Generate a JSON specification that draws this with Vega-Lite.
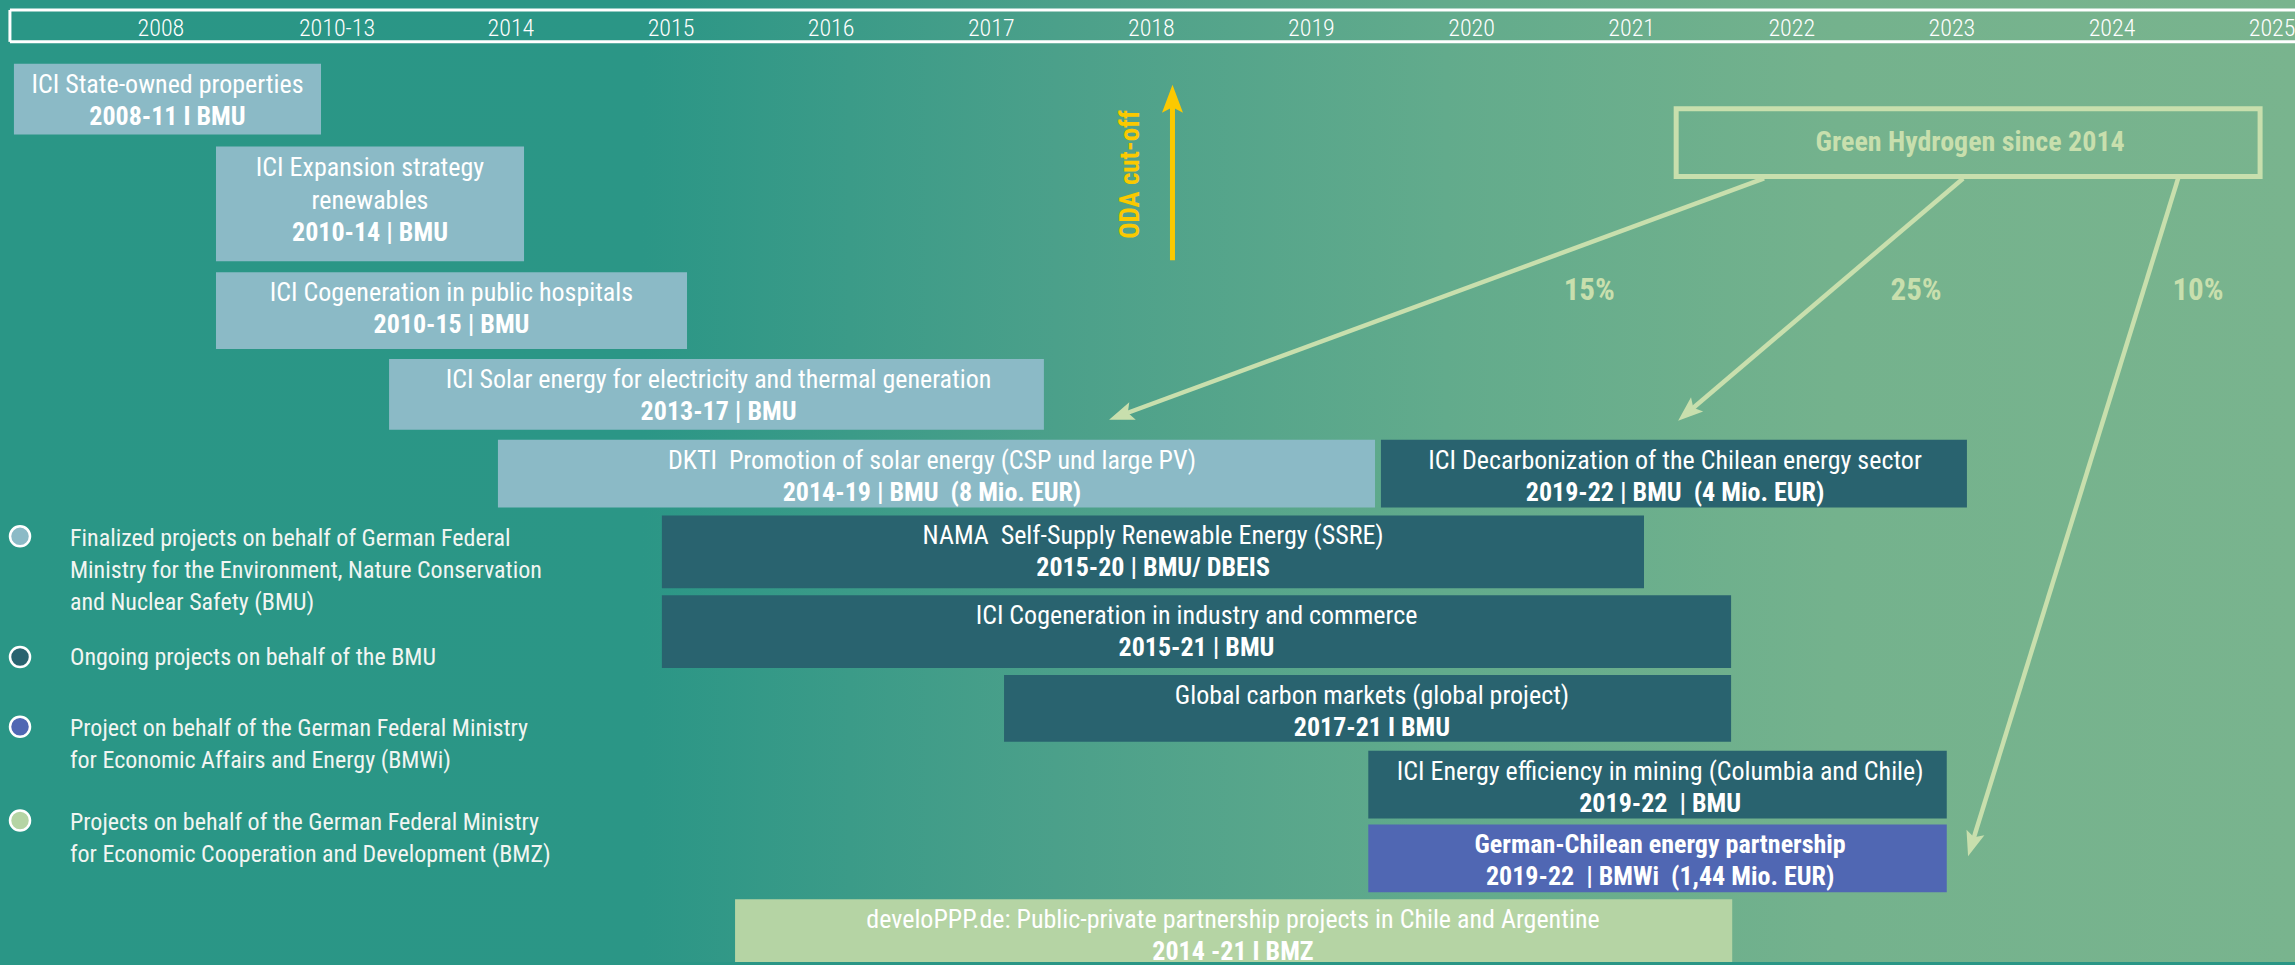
{
  "$schema": "https://vega.github.io/schema/vega-lite/v6.json",
  "width": 2295,
  "height": 965,
  "autosize": {"type": "fit", "contains": "padding"},
  "padding": 0,
  "background": "#2a9686",
  "config": {
    "view": {"stroke": null},
    "text": {"font": "Roboto Condensed, Open Sans Condensed, Liberation Sans Narrow, DejaVu Sans Condensed, sans-serif"}
  },
  "datasets": {
    "frame": [{"x0": 2010.809, "x1": 2025.143, "v0": 0, "v1": 965}],
    "header": [
      {"x0": 2010.871, "x1": 2025.143, "v0": 10, "v1": 10},
      {"x0": 2010.871, "x1": 2025.143, "v0": 42, "v1": 42},
      {"x0": 2010.871, "x1": 2010.871, "v0": 10, "v1": 42}
    ],
    "years": [
      {"label": "2008", "pos": 2011.814},
      {"label": "2010-13", "pos": 2012.914},
      {"label": "2014", "pos": 2014},
      {"label": "2015", "pos": 2015},
      {"label": "2016", "pos": 2016},
      {"label": "2017", "pos": 2017},
      {"label": "2018", "pos": 2018},
      {"label": "2019", "pos": 2019},
      {"label": "2020", "pos": 2020},
      {"label": "2021", "pos": 2021},
      {"label": "2022", "pos": 2022},
      {"label": "2023", "pos": 2023},
      {"label": "2024", "pos": 2024},
      {"label": "2025", "pos": 2025}
    ],
    "bars": [
      {"cat": "Finalized BMU", "start": 2010.896, "end": 2012.814, "top": 64, "bottom": 135, "mid": 2011.855, "title": "ICI State-owned properties", "meta": "2008-11 I BMU"},
      {"cat": "Finalized BMU", "start": 2012.158, "end": 2014.082, "top": 147, "bottom": 262, "mid": 2013.12, "title": "ICI Expansion strategy\nrenewables", "meta": "2010-14 | BMU"},
      {"cat": "Finalized BMU", "start": 2012.158, "end": 2015.1, "top": 273, "bottom": 350, "mid": 2013.629, "title": "ICI Cogeneration in public hospitals", "meta": "2010-15 | BMU"},
      {"cat": "Finalized BMU", "start": 2013.239, "end": 2017.329, "top": 360, "bottom": 431, "mid": 2015.297, "title": "ICI Solar energy for electricity and thermal generation", "meta": "2013-17 | BMU"},
      {"cat": "Finalized BMU", "start": 2013.919, "end": 2019.397, "top": 441, "bottom": 509, "mid": 2016.63, "title": "DKTI\u00a0 Promotion of solar energy (CSP und large PV)", "meta": "2014-19 | BMU\u00a0 (8 Mio. EUR)"},
      {"cat": "Ongoing BMU", "start": 2019.434, "end": 2023.094, "top": 441, "bottom": 509, "mid": 2021.271, "title": "ICI Decarbonization of the Chilean energy sector", "meta": "2019-22 | BMU\u00a0 (4 Mio. EUR)"},
      {"cat": "Ongoing BMU", "start": 2014.943, "end": 2021.077, "top": 517, "bottom": 590, "mid": 2018.011, "title": "NAMA\u00a0 Self-Supply Renewable Energy (SSRE)", "meta": "2015-20 | BMU/ DBEIS"},
      {"cat": "Ongoing BMU", "start": 2014.943, "end": 2021.621, "top": 597, "bottom": 670, "mid": 2018.282, "title": "ICI Cogeneration in industry and commerce", "meta": "2015-21 | BMU"},
      {"cat": "Ongoing BMU", "start": 2017.08, "end": 2021.621, "top": 677, "bottom": 744, "mid": 2019.378, "title": "Global carbon markets (global project)", "meta": "2017-21 I BMU"},
      {"cat": "Ongoing BMU", "start": 2019.355, "end": 2022.968, "top": 753, "bottom": 821, "mid": 2021.178, "title": "ICI Energy efficiency in mining (Columbia and Chile)", "meta": "2019-22\u00a0 | BMU"},
      {"cat": "BMWi", "start": 2019.355, "end": 2022.968, "top": 827, "bottom": 895, "mid": 2021.178, "title": "German-Chilean energy partnership", "meta": "2019-22\u00a0 | BMWi\u00a0 (1,44 Mio. EUR)"},
      {"cat": "BMZ", "start": 2015.4, "end": 2021.628, "top": 902, "bottom": 965, "mid": 2018.51, "title": "develoPPP.de: Public-private partnership projects in Chile and Argentine", "meta": "2014 -21 I BMZ"}
    ],
    "oda": [{"x": 2018.132, "tip": 85, "neck": 102, "base": 261}],
    "odaLabel": [{"x": 2017.873, "v": 175, "text": "ODA cut-off"}],
    "green": [{"x0": 2021.278, "x1": 2024.925, "v0": 109, "v1": 177, "x": 2023.114, "v": 143, "text": "Green Hydrogen since 2014"}],
    "arrows": [
      {"share": "15%", "x0": 2021.827, "v0": 179, "x1": 2017.806, "v1": 416.8, "tipx": 2017.736, "tipv": 421, "lx": 2020.735, "lv": 292},
      {"share": "25%", "x0": 2023.07, "v0": 179, "x1": 2021.347, "v1": 414.2, "tipx": 2021.29, "tipv": 422, "lx": 2022.776, "lv": 292},
      {"share": "10%", "x0": 2024.413, "v0": 179, "x1": 2023.123, "v1": 847.5, "tipx": 2023.101, "tipv": 859, "lx": 2024.537, "lv": 292}
    ],
    "legend": [
      {"cat": "Finalized BMU", "cx": 2010.934, "cv": 538, "tx": 2011.246, "tv": 548, "label": "Finalized projects on behalf of German Federal\nMinistry for the Environment, Nature Conservation\nand Nuclear Safety (BMU)"},
      {"cat": "Ongoing BMU", "cx": 2010.934, "cv": 659, "tx": 2011.246, "tv": 667, "label": "Ongoing projects on behalf of the BMU"},
      {"cat": "BMWi", "cx": 2010.934, "cv": 729, "tx": 2011.246, "tv": 738, "label": "Project on behalf of the German Federal Ministry\nfor Economic Affairs and Energy (BMWi)"},
      {"cat": "BMZ", "cx": 2010.934, "cv": 823, "tx": 2011.246, "tv": 833, "label": "Projects on behalf of the German Federal Ministry\nfor Economic Cooperation and Development (BMZ)"}
    ]
  },
  "layer": [
    {
      "data": {"name": "frame"},
      "mark": {"type": "rect", "clip": true, "fill": {"gradient": "linear", "x1": 0, "y1": 0, "x2": 1, "y2": 0, "stops": [
        {"offset": 0, "color": "#2a9686"},
        {"offset": 0.28, "color": "#2b9686"},
        {"offset": 0.46, "color": "#4ba08a"},
        {"offset": 0.63, "color": "#62ab8c"},
        {"offset": 0.8, "color": "#74b28d"},
        {"offset": 1, "color": "#79b48e"}
      ]}},
      "encoding": {
        "x": {"field": "x0", "type": "quantitative", "scale": {"domain": [2010.809, 2025.143], "nice": false, "zero": false}, "axis": null},
        "x2": {"field": "x1"},
        "y": {"field": "v0", "type": "quantitative", "scale": {"domain": [0, 965], "reverse": true, "nice": false, "zero": false}, "axis": null},
        "y2": {"field": "v1"}
      }
    },
    {
      "data": {"name": "header"},
      "mark": {"type": "rule", "color": "white", "strokeWidth": 3, "clip": true},
      "encoding": {
        "x": {"field": "x0", "type": "quantitative", "scale": {"domain": [2010.809, 2025.143], "nice": false, "zero": false}, "axis": null},
        "x2": {"field": "x1"},
        "y": {"field": "v0", "type": "quantitative", "scale": {"domain": [0, 965], "reverse": true, "nice": false, "zero": false}, "axis": null},
        "y2": {"field": "v1"}
      }
    },
    {
      "data": {"name": "years"},
      "mark": {"type": "text", "color": "white", "fontSize": 24, "fontWeight": 300, "align": "center", "baseline": "middle", "clip": true},
      "encoding": {
        "x": {"field": "pos", "type": "quantitative", "scale": {"domain": [2010.809, 2025.143], "nice": false, "zero": false}, "axis": null},
        "y": {"datum": 29, "type": "quantitative", "scale": {"domain": [0, 965], "reverse": true, "nice": false, "zero": false}, "axis": null},
        "text": {"field": "label"}
      }
    },
    {
      "data": {"name": "bars"},
      "mark": {"type": "rect"},
      "encoding": {
        "x": {"field": "start", "type": "quantitative", "scale": {"domain": [2010.809, 2025.143], "nice": false, "zero": false}, "axis": null},
        "x2": {"field": "end"},
        "y": {"field": "top", "type": "quantitative", "scale": {"domain": [0, 965], "reverse": true, "nice": false, "zero": false}, "axis": null},
        "y2": {"field": "bottom"},
        "color": {"field": "cat", "type": "nominal", "scale": {"domain": ["Finalized BMU", "Ongoing BMU", "BMWi", "BMZ"], "range": ["#8bbac6", "#29636f", "#5067b3", "#b5d4a4"]}, "legend": null}
      }
    },
    {
      "data": {"name": "bars"},
      "transform": [{"filter": "datum.cat !== 'BMWi'"}],
      "mark": {"type": "text", "color": "white", "fontSize": 26, "align": "center", "baseline": "alphabetic", "dy": 29, "lineBreak": "\n", "lineHeight": 33},
      "encoding": {
        "x": {"field": "mid", "type": "quantitative", "scale": {"domain": [2010.809, 2025.143], "nice": false, "zero": false}, "axis": null},
        "y": {"field": "top", "type": "quantitative", "scale": {"domain": [0, 965], "reverse": true, "nice": false, "zero": false}, "axis": null},
        "text": {"field": "title"}
      }
    },
    {
      "data": {"name": "bars"},
      "transform": [{"filter": "datum.cat === 'BMWi'"}],
      "mark": {"type": "text", "color": "white", "fontSize": 26, "fontWeight": "bold", "align": "center", "baseline": "alphabetic", "dy": 29},
      "encoding": {
        "x": {"field": "mid", "type": "quantitative", "scale": {"domain": [2010.809, 2025.143], "nice": false, "zero": false}, "axis": null},
        "y": {"field": "top", "type": "quantitative", "scale": {"domain": [0, 965], "reverse": true, "nice": false, "zero": false}, "axis": null},
        "text": {"field": "title"}
      }
    },
    {
      "data": {"name": "bars"},
      "transform": [{"filter": "indexof(datum.title, '\\n') < 0"}],
      "mark": {"type": "text", "color": "white", "fontSize": 26, "fontWeight": "bold", "align": "center", "baseline": "alphabetic", "dy": 61},
      "encoding": {
        "x": {"field": "mid", "type": "quantitative", "scale": {"domain": [2010.809, 2025.143], "nice": false, "zero": false}, "axis": null},
        "y": {"field": "top", "type": "quantitative", "scale": {"domain": [0, 965], "reverse": true, "nice": false, "zero": false}, "axis": null},
        "text": {"field": "meta"}
      }
    },
    {
      "data": {"name": "bars"},
      "transform": [{"filter": "indexof(datum.title, '\\n') >= 0"}],
      "mark": {"type": "text", "color": "white", "fontSize": 26, "fontWeight": "bold", "align": "center", "baseline": "alphabetic", "dy": 94},
      "encoding": {
        "x": {"field": "mid", "type": "quantitative", "scale": {"domain": [2010.809, 2025.143], "nice": false, "zero": false}, "axis": null},
        "y": {"field": "top", "type": "quantitative", "scale": {"domain": [0, 965], "reverse": true, "nice": false, "zero": false}, "axis": null},
        "text": {"field": "meta"}
      }
    },
    {
      "data": {"name": "oda"},
      "mark": {"type": "rule", "color": "#fbc900", "strokeWidth": 5},
      "encoding": {
        "x": {"field": "x", "type": "quantitative", "scale": {"domain": [2010.809, 2025.143], "nice": false, "zero": false}, "axis": null},
        "y": {"field": "base", "type": "quantitative", "scale": {"domain": [0, 965], "reverse": true, "nice": false, "zero": false}, "axis": null},
        "y2": {"field": "neck"}
      }
    },
    {
      "data": {"name": "oda"},
      "mark": {"type": "point", "shape": "M0,0L0.75,2L0,1.6L-0.75,2Z", "filled": true, "opacity": 1, "color": "#fbc900", "size": 784, "angle": 0},
      "encoding": {
        "x": {"field": "x", "type": "quantitative", "scale": {"domain": [2010.809, 2025.143], "nice": false, "zero": false}, "axis": null},
        "y": {"field": "tip", "type": "quantitative", "scale": {"domain": [0, 965], "reverse": true, "nice": false, "zero": false}, "axis": null}
      }
    },
    {
      "data": {"name": "odaLabel"},
      "mark": {"type": "text", "color": "#fbc900", "fontSize": 27, "fontWeight": "bold", "letterSpacing": 1.2, "align": "center", "baseline": "middle", "angle": 270},
      "encoding": {
        "x": {"field": "x", "type": "quantitative", "scale": {"domain": [2010.809, 2025.143], "nice": false, "zero": false}, "axis": null},
        "y": {"field": "v", "type": "quantitative", "scale": {"domain": [0, 965], "reverse": true, "nice": false, "zero": false}, "axis": null},
        "text": {"field": "text"}
      }
    },
    {
      "data": {"name": "green"},
      "mark": {"type": "rect", "filled": false, "color": "#c8dfad", "strokeWidth": 5},
      "encoding": {
        "x": {"field": "x0", "type": "quantitative", "scale": {"domain": [2010.809, 2025.143], "nice": false, "zero": false}, "axis": null},
        "x2": {"field": "x1"},
        "y": {"field": "v0", "type": "quantitative", "scale": {"domain": [0, 965], "reverse": true, "nice": false, "zero": false}, "axis": null},
        "y2": {"field": "v1"}
      }
    },
    {
      "data": {"name": "green"},
      "mark": {"type": "text", "color": "#c8dfad", "fontSize": 28, "fontWeight": "bold", "align": "center", "baseline": "middle"},
      "encoding": {
        "x": {"field": "x", "type": "quantitative", "scale": {"domain": [2010.809, 2025.143], "nice": false, "zero": false}, "axis": null},
        "y": {"field": "v", "type": "quantitative", "scale": {"domain": [0, 965], "reverse": true, "nice": false, "zero": false}, "axis": null},
        "text": {"field": "text"}
      }
    },
    {
      "data": {"name": "arrows"},
      "mark": {"type": "rule", "color": "#c8dfad", "strokeWidth": 4.5},
      "encoding": {
        "x": {"field": "x0", "type": "quantitative", "scale": {"domain": [2010.809, 2025.143], "nice": false, "zero": false}, "axis": null},
        "x2": {"field": "x1"},
        "y": {"field": "v0", "type": "quantitative", "scale": {"domain": [0, 965], "reverse": true, "nice": false, "zero": false}, "axis": null},
        "y2": {"field": "v1"}
      }
    },
    {
      "data": {"name": "arrows"},
      "transform": [{"filter": "datum.share === '15%'"}],
      "mark": {"type": "point", "shape": "M0,0L0.75,2L0,1.6L-0.75,2Z", "filled": true, "opacity": 1, "color": "#c8dfad", "size": 625, "angle": 249.7},
      "encoding": {
        "x": {"field": "tipx", "type": "quantitative", "scale": {"domain": [2010.809, 2025.143], "nice": false, "zero": false}, "axis": null},
        "y": {"field": "tipv", "type": "quantitative", "scale": {"domain": [0, 965], "reverse": true, "nice": false, "zero": false}, "axis": null}
      }
    },
    {
      "data": {"name": "arrows"},
      "transform": [{"filter": "datum.share === '25%'"}],
      "mark": {"type": "point", "shape": "M0,0L0.75,2L0,1.6L-0.75,2Z", "filled": true, "opacity": 1, "color": "#c8dfad", "size": 625, "angle": 229.5},
      "encoding": {
        "x": {"field": "tipx", "type": "quantitative", "scale": {"domain": [2010.809, 2025.143], "nice": false, "zero": false}, "axis": null},
        "y": {"field": "tipv", "type": "quantitative", "scale": {"domain": [0, 965], "reverse": true, "nice": false, "zero": false}, "axis": null}
      }
    },
    {
      "data": {"name": "arrows"},
      "transform": [{"filter": "datum.share === '10%'"}],
      "mark": {"type": "point", "shape": "M0,0L0.75,2L0,1.6L-0.75,2Z", "filled": true, "opacity": 1, "color": "#c8dfad", "size": 625, "angle": 197.2},
      "encoding": {
        "x": {"field": "tipx", "type": "quantitative", "scale": {"domain": [2010.809, 2025.143], "nice": false, "zero": false}, "axis": null},
        "y": {"field": "tipv", "type": "quantitative", "scale": {"domain": [0, 965], "reverse": true, "nice": false, "zero": false}, "axis": null}
      }
    },
    {
      "data": {"name": "arrows"},
      "mark": {"type": "text", "color": "#c8dfad", "fontSize": 31, "fontWeight": "bold", "align": "center", "baseline": "middle"},
      "encoding": {
        "x": {"field": "lx", "type": "quantitative", "scale": {"domain": [2010.809, 2025.143], "nice": false, "zero": false}, "axis": null},
        "y": {"field": "lv", "type": "quantitative", "scale": {"domain": [0, 965], "reverse": true, "nice": false, "zero": false}, "axis": null},
        "text": {"field": "share"}
      }
    },
    {
      "data": {"name": "legend"},
      "mark": {"type": "point", "shape": "circle", "filled": true, "opacity": 1, "size": 400, "stroke": "white", "strokeWidth": 2.5},
      "encoding": {
        "x": {"field": "cx", "type": "quantitative", "scale": {"domain": [2010.809, 2025.143], "nice": false, "zero": false}, "axis": null},
        "y": {"field": "cv", "type": "quantitative", "scale": {"domain": [0, 965], "reverse": true, "nice": false, "zero": false}, "axis": null},
        "color": {"field": "cat", "type": "nominal", "scale": {"domain": ["Finalized BMU", "Ongoing BMU", "BMWi", "BMZ"], "range": ["#8bbac6", "#29636f", "#5067b3", "#b5d4a4"]}, "legend": null}
      }
    },
    {
      "data": {"name": "legend"},
      "mark": {"type": "text", "color": "#f2f5f2", "fontSize": 24, "align": "left", "baseline": "alphabetic", "lineBreak": "\n", "lineHeight": 32},
      "encoding": {
        "x": {"field": "tx", "type": "quantitative", "scale": {"domain": [2010.809, 2025.143], "nice": false, "zero": false}, "axis": null},
        "y": {"field": "tv", "type": "quantitative", "scale": {"domain": [0, 965], "reverse": true, "nice": false, "zero": false}, "axis": null},
        "text": {"field": "label"}
      }
    }
  ]
}
